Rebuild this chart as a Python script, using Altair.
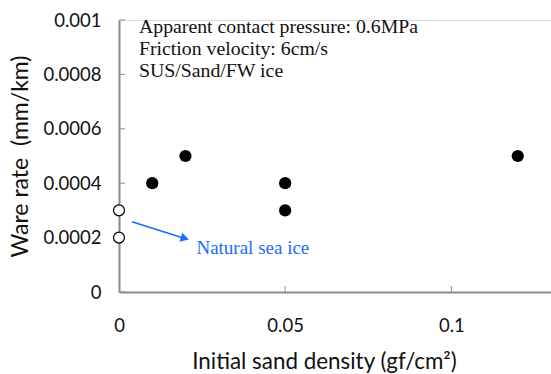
import altair as alt
import pandas as pd

# Sand-laden fresh-water ice tests
sand_density = [0.01, 0.02, 0.05, 0.05, 0.12]
wear_rate = [0.0004, 0.0005, 0.0004, 0.0003, 0.0005]

# Natural sea ice reference tests (no sand)
sea_density = [0.0, 0.0]
sea_wear = [0.0003, 0.0002]

y_ticks = [0.0, 0.0002, 0.0004, 0.0006, 0.0008, 0.001]
x_ticks = [0.05, 0.1]

conditions = [
    "Apparent contact pressure: 0.6MPa",
    "Friction velocity: 6cm/s",
    "SUS/Sand/FW ice",
]

AXIS_GREY = "#8c8c8c"
BLUE = "#1a6cff"
SANS = "Lato"
SERIF = "Liberation Serif"

xs = alt.Scale(domain=[0, 0.13], nice=False, zero=True)
ys = alt.Scale(domain=[0, 0.001], nice=False)

sand_df = pd.DataFrame({"x": sand_density, "y": wear_rate})
sea_df = pd.DataFrame({"x": sea_density, "y": sea_wear})

x_axis = alt.Axis(
    values=[0, 0.05, 0.1], format="~g", ticks=False, grid=False, labelFlush=False,
    domainColor=AXIS_GREY, domainWidth=2, labelFont=SANS, labelFontSize=18.5,
    labelColor="#111", labelPadding=24, title="Initial sand density (gf/cm²)",
    titleFont=SANS, titleFontSize=22.4, titleFontWeight="normal", titleColor="#111",
    titlePadding=16, titleX=205,
)
y_axis = alt.Axis(
    values=y_ticks, format=".4~f", ticks=False, grid=False, labelFlush=False,
    domainColor=AXIS_GREY, domainWidth=2, labelFont=SANS, labelFontSize=18.5,
    labelColor="#111", labelPadding=18, title="Ware rate\u00a0\u00a0(mm/km)",
    titleFont=SANS, titleFontSize=23, titleFontWeight="normal", titleColor="#111",
    titlePadding=10,
)

sand_pts = alt.Chart(sand_df).mark_point(
    filled=True, shape="circle", size=150, color="black", opacity=1
).encode(
    x=alt.X("x:Q", scale=xs, axis=x_axis),
    y=alt.Y("y:Q", scale=ys, axis=y_axis),
)

sea_pts = alt.Chart(sea_df).mark_point(
    filled=True, shape="circle", size=120, fill="white", stroke="black",
    strokeWidth=1.2, opacity=1
).encode(x=alt.X("x:Q", scale=xs), y=alt.Y("y:Q", scale=ys))

# Inward-pointing tick marks
ytick_df = pd.DataFrame({"y": y_ticks})
ytick_rules = alt.Chart(ytick_df).mark_rule(color=AXIS_GREY, strokeWidth=1).encode(
    x=alt.value(0), x2=alt.value(6), y=alt.Y("y:Q", scale=ys)
)
xtick_df = pd.DataFrame({"x": x_ticks})
xtick_rules = alt.Chart(xtick_df).mark_rule(color=AXIS_GREY, strokeWidth=1).encode(
    x=alt.X("x:Q", scale=xs), y=alt.value(266), y2=alt.value(272)
)

# Condition notes in the upper left
notes_df = pd.DataFrame({"t": ["\n".join(conditions)]})
notes = alt.Chart(notes_df).mark_text(
    align="left", baseline="middle", font=SERIF, fontSize=19.8, color="#111",
    lineBreak="\n", lineHeight=22,
).encode(x=alt.value(20), y=alt.value(7), text="t:N")

# Arrow pointing from the sea ice points to their label
arrow_df = pd.DataFrame({"x": [0.0039], "y": [0.000258], "x2": [0.0205], "y2": [0.000194]})
arrow_line = alt.Chart(arrow_df).mark_rule(color=BLUE, strokeWidth=1.5).encode(
    x=alt.X("x:Q", scale=xs), y=alt.Y("y:Q", scale=ys), x2="x2:Q", y2="y2:Q"
)
head_df = pd.DataFrame({"x": [0.0198], "y": [0.000197]})
arrow_head = alt.Chart(head_df).mark_point(
    shape="triangle-right", filled=True, size=90, color=BLUE, angle=17, opacity=1
).encode(x=alt.X("x:Q", scale=xs), y=alt.Y("y:Q", scale=ys))

label_df = pd.DataFrame({"x": [0.0233], "y": [0.000162], "t": ["Natural sea ice"]})
sea_label = alt.Chart(label_df).mark_text(
    align="left", baseline="middle", font=SERIF, fontSize=19, color=BLUE
).encode(x=alt.X("x:Q", scale=xs), y=alt.Y("y:Q", scale=ys), text="t:N")

chart = alt.layer(
    sand_pts, ytick_rules, xtick_rules, arrow_line, arrow_head, sea_pts, notes, sea_label
).properties(
    width=432, height=272,
    autosize=alt.AutoSizeParams(type="none"),
    padding={"left": 119, "top": 20, "right": 0, "bottom": 82},
).configure_view(stroke=None).configure(background="white")

chart.save("out.html", embed_options={"renderer": "svg", "actions": False})
